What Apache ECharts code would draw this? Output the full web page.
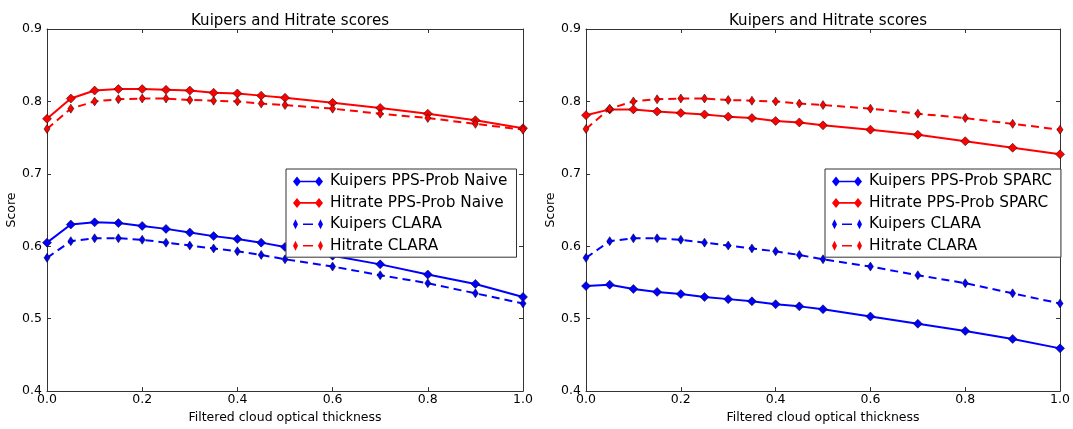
<!DOCTYPE html>
<html>
<head>
<meta charset="utf-8">
<script src="https://cdn.jsdelivr.net/npm/echarts@6/dist/echarts.min.js"></script>
<style>
html,body{margin:0;padding:0;background:#fff;}
#chart{width:1073px;height:429px;}
</style>
</head>
<body>
<div id="chart"></div>
<script>
// ---- data ----
var xValues = [0, 0.05, 0.1, 0.15, 0.2, 0.25, 0.3, 0.35, 0.4, 0.45, 0.5, 0.6, 0.7, 0.8, 0.9, 1.0];
var kuipersNaive = [0.605, 0.630, 0.633, 0.632, 0.628, 0.624, 0.619, 0.614, 0.610, 0.605, 0.599, 0.587, 0.575, 0.561, 0.548, 0.530];
var hitrateNaive = [0.776, 0.804, 0.815, 0.817, 0.817, 0.816, 0.815, 0.812, 0.811, 0.808, 0.805, 0.798, 0.791, 0.783, 0.774, 0.763];
var kuipersClara = [0.584, 0.607, 0.611, 0.611, 0.609, 0.605, 0.601, 0.597, 0.593, 0.588, 0.582, 0.572, 0.560, 0.549, 0.535, 0.521];
var hitrateClara = [0.762, 0.790, 0.800, 0.803, 0.804, 0.804, 0.802, 0.801, 0.800, 0.797, 0.795, 0.790, 0.783, 0.777, 0.769, 0.761];
var kuipersSparc = [0.545, 0.547, 0.541, 0.537, 0.534, 0.530, 0.527, 0.524, 0.520, 0.517, 0.513, 0.503, 0.493, 0.483, 0.472, 0.459];
var hitrateSparc = [0.781, 0.789, 0.789, 0.786, 0.784, 0.782, 0.779, 0.777, 0.773, 0.771, 0.767, 0.761, 0.754, 0.745, 0.736, 0.727];

var titleText = 'Kuipers and Hitrate scores';
var xName = 'Filtered cloud optical thickness';
var yName = 'Score';
var legendLeft = ['Kuipers PPS-Prob Naive', 'Hitrate PPS-Prob Naive', 'Kuipers CLARA', 'Hitrate CLARA'];
var legendRight = ['Kuipers PPS-Prob SPARC', 'Hitrate PPS-Prob SPARC', 'Kuipers CLARA ', 'Hitrate CLARA '];

// ---- helpers ----
var FONT = 'DejaVu Sans';
var AXC = '#333';
function pairs(ys) { return xValues.map(function (x, i) { return [x, ys[i]]; }); }
var ICON_SOLID = 'path://M0,5L4,0L8,5L4,10Z M22,5L26,0L30,5L26,10Z M4,4.2L26,4.2L26,5.8L4,5.8Z';
var ICON_DASH = 'path://M0,5L2.5,0L5,5L2.5,10Z M25,5L27.5,0L30,5L27.5,10Z M10,4.2L20,4.2L20,5.8L10,5.8Z';

function mkSeries(name, ys, color, dashed, gi) {
  return {
    name: name, type: 'line', xAxisIndex: gi * 2, yAxisIndex: gi * 2,
    data: pairs(ys),
    symbol: 'diamond',
    symbolSize: dashed ? [6, 9] : [9, 9],
    showAllSymbol: true,
    lineStyle: { color: color, width: 2, type: dashed ? [8, 5] : 'solid' },
    itemStyle: { color: color, borderColor: '#000', borderWidth: 0.5 },
    emphasis: { disabled: true },
    clip: true
  };
}
function xAx(gi, pos) {
  var top = pos === 'top';
  return {
    type: 'value', gridIndex: gi, position: pos, min: 0, max: 1, interval: 0.2,
    name: top ? '' : xName, nameLocation: 'middle', nameGap: 19,
    nameTextStyle: { fontFamily: FONT, fontSize: 12.5, color: '#000' },
    axisLine: { show: true, onZero: false, lineStyle: { color: AXC, width: 1 } },
    axisTick: { show: true, inside: true, length: 4, lineStyle: { color: AXC } },
    axisLabel: { show: !top, margin: 2, fontFamily: FONT, fontSize: 12.5, color: '#000',
      formatter: function (v) { return v.toFixed(1); } },
    splitLine: { show: false }
  };
}
function yAx(gi, pos) {
  var right = pos === 'right';
  return {
    type: 'value', gridIndex: gi, position: pos, min: 0.4, max: 0.9, interval: 0.1,
    name: right ? '' : yName, nameLocation: 'middle', nameGap: 26, nameRotate: 90,
    nameTextStyle: { fontFamily: FONT, fontSize: 12.5, color: '#000' },
    axisLine: { show: true, onZero: false, lineStyle: { color: AXC, width: 1 } },
    axisTick: { show: true, inside: true, length: 4, lineStyle: { color: AXC } },
    axisLabel: { show: !right, margin: 5, fontFamily: FONT, fontSize: 12.5, color: '#000',
      formatter: function (v) { return v.toFixed(1); } },
    splitLine: { show: false }
  };
}
function mkLegend(names, left) {
  return {
    orient: 'vertical', left: left, top: 169,
    padding: [5, 9, 4, 7], itemGap: 6.4, itemWidth: 30, itemHeight: 10,
    backgroundColor: '#fff', borderColor: '#333', borderWidth: 1, borderRadius: 0,
    textStyle: { fontFamily: FONT, fontSize: 15.3, color: '#000', padding: [0, 0, 0, 2] },
    itemStyle: { borderWidth: 0 },
    selectedMode: false,
    data: names.map(function (n, i) { return { name: n, icon: i < 2 ? ICON_SOLID : ICON_DASH }; })
  };
}

var chart = echarts.init(document.getElementById('chart'), null, { renderer: 'canvas' });
chart.setOption({
  animation: false,
  backgroundColor: '#fff',
  title: [
    { text: titleText, left: 285, top: 9, textAlign: 'center',
      textStyle: { fontFamily: FONT, fontSize: 15, fontWeight: 'normal', color: '#000' } },
    { text: titleText, left: 823, top: 9, textAlign: 'center',
      textStyle: { fontFamily: FONT, fontSize: 15, fontWeight: 'normal', color: '#000' } }
  ],
  grid: [
    { left: 47, top: 29, width: 476, height: 369, containLabel: false },
    { left: 586, top: 29, width: 475, height: 369, containLabel: false }
  ],
  xAxis: [xAx(0, 'bottom'), xAx(0, 'top'), xAx(1, 'bottom'), xAx(1, 'top')],
  yAxis: [yAx(0, 'left'), yAx(0, 'right'), yAx(1, 'left'), yAx(1, 'right')],
  legend: [mkLegend(legendLeft, 286), mkLegend(legendRight, 825)],
  series: [
    mkSeries(legendLeft[0], kuipersNaive, '#0000ff', false, 0),
    mkSeries(legendLeft[1], hitrateNaive, '#ff0000', false, 0),
    mkSeries(legendLeft[2], kuipersClara, '#0000ff', true, 0),
    mkSeries(legendLeft[3], hitrateClara, '#ff0000', true, 0),
    mkSeries(legendRight[0], kuipersSparc, '#0000ff', false, 1),
    mkSeries(legendRight[1], hitrateSparc, '#ff0000', false, 1),
    mkSeries(legendRight[2], kuipersClara, '#0000ff', true, 1),
    mkSeries(legendRight[3], hitrateClara, '#ff0000', true, 1)
  ]
});
</script>
</body>
</html>
